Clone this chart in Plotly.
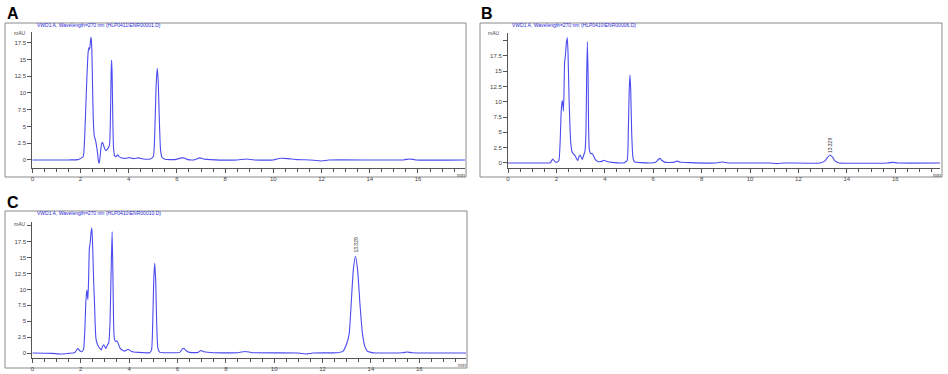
import plotly.graph_objects as go

# ---------------- data ----------------
a_time = [0, 1.5, 1.9, 2.05, 2.12, 2.18, 2.25, 2.32, 2.36, 2.38, 2.42, 2.44, 2.47, 2.5, 2.53, 2.57,
          2.63, 2.7, 2.75, 2.78, 2.82, 2.88, 2.92, 2.97, 3.05, 3.12, 3.2, 3.24, 3.27, 3.29, 3.31, 3.34,
          3.37, 3.42, 3.48, 3.54, 3.6, 3.7, 3.9, 4.0, 4.2, 4.4, 4.6, 4.9, 5.02, 5.08, 5.13, 5.18, 5.22,
          5.27, 5.32, 5.38, 5.5, 5.9, 6.2, 6.3, 6.45, 6.7, 6.95, 7.1, 7.4, 8.5, 8.9, 9.2, 10.0, 10.3,
          10.6, 11.0, 11.5, 12.0, 12.3, 15.4, 15.65, 15.9, 17.95]
a_mau = [0, 0, 0.05, 0.3, 0.6, 4, 11, 16.2, 16.8, 16.5, 18.0, 18.3, 16.5, 11, 6, 3.6,
         2.8, 1.2, -0.3, -0.5, 0.8, 2.5, 2.6, 2.0, 1.4, 1.6, 2.2, 6, 13, 14.9, 13, 6,
         1.8, 0.6, 0.5, 0.75, 0.5, 0.3, 0.25, 0.35, 0.2, 0.3, 0.15, 0.15, 0.5, 4, 10.5, 13.7, 12,
         6, 1.5, 0.4, 0.1, 0.05, 0.3, 0.3, 0.05, 0.0, 0.3, 0.15, 0.05, 0.0, 0.15, 0.0, 0.0, 0.25,
         0.2, 0.05, 0.0, -0.15, 0.0, 0.0, 0.15, 0.0, 0.0]

b_time = [0, 1.5, 1.75, 1.85, 1.92, 2.0, 2.1, 2.15, 2.2, 2.24, 2.27, 2.29, 2.31, 2.34, 2.37, 2.41,
          2.45, 2.48, 2.52, 2.56, 2.6, 2.65, 2.72, 2.77, 2.83, 2.88, 2.93, 2.98, 3.03, 3.07, 3.13,
          3.18, 3.22, 3.25, 3.28, 3.31, 3.33, 3.36, 3.42, 3.47, 3.53, 3.6, 3.75, 3.9, 3.98, 4.08, 4.3,
          4.8, 4.92, 4.97, 5.01, 5.04, 5.07, 5.11, 5.16, 5.22, 5.5, 6.1, 6.22, 6.28, 6.36, 6.5, 6.85,
          6.97, 7.1, 7.5, 8.6, 8.85, 9.1, 10.8, 11.1, 11.4, 12.9, 13.1, 13.2, 13.3, 13.4, 13.5, 13.65,
          15.7, 15.9, 16.1, 17.85]
b_mau = [0, 0, 0.05, 0.65, 0.3, 0.1, 0.4, 3, 8.5, 10.2, 9.5, 8.5, 11, 16.5, 17.5, 19.5,
         20.5, 18, 11, 6, 3, 1.8, 1.4, 1.25, 0.7, 0.4, 1.0, 1.3, 0.9, 0.6, 1.3,
         1.9, 5, 14, 19.8, 14, 6, 2.2, 1.5, 1.6, 1.2, 0.6, 0.2, 0.3, 0.45, 0.25, 0.1,
         0.05, 0.4, 5, 12, 14.4, 12, 5, 1, 0.2, 0.05, 0.1, 0.6, 0.75, 0.4, 0.1, 0.1,
         0.3, 0.15, 0.05, 0.0, 0.15, 0.0, 0.0, -0.1, 0.0, 0.0, 0.35, 0.9, 1.3, 1.0, 0.4, 0.05,
         0.0, 0.1, 0.0, 0.0]

c_time = [0, 0.8, 1.2, 1.5, 1.75, 1.88, 1.95, 2.05, 2.12, 2.17, 2.22, 2.26, 2.28, 2.3, 2.33, 2.36,
          2.39, 2.43, 2.46, 2.49, 2.53, 2.57, 2.6, 2.63, 2.68, 2.74, 2.8, 2.85, 2.9, 2.95, 3.0, 3.04,
          3.1, 3.16, 3.21, 3.26, 3.3, 3.33, 3.36, 3.39, 3.45, 3.5, 3.56, 3.64, 3.8, 3.92, 3.98, 4.1,
          4.4, 4.85, 4.93, 4.98, 5.02, 5.06, 5.1, 5.14, 5.19, 5.26, 5.6, 6.1, 6.2, 6.27, 6.35, 6.5,
          6.85, 6.97, 7.1, 7.5, 8.5, 8.8, 9.1, 11.0, 11.3, 11.6, 12.6, 12.85, 13.0, 13.1, 13.18, 13.27,
          13.36, 13.45, 13.55, 13.65, 13.75, 13.85, 14.0, 14.2, 15.3, 15.5, 15.7, 17.93]
c_mau = [0, -0.05, -0.15, -0.05, 0.05, 0.7, 0.4, 0.2, 0.6, 3.5, 8.5, 9.9, 9.0, 8.4, 12, 16.5,
         17.2, 19.0, 19.7, 17.5, 12, 8.0, 4.5, 2.3, 1.5, 1.0, 0.7, 0.5, 1.0, 1.3, 1.0, 0.7,
         1.2, 1.6, 4.5, 13, 19.1, 13, 5, 2.3, 1.8, 1.9, 1.4, 0.7, 0.3, 0.5, 0.55, 0.25,
         0.1, 0.05, 0.5, 5, 11.5, 14.1, 11.5, 5, 0.8, 0.15, 0.05, 0.1, 0.6, 0.75, 0.4, 0.1,
         0.1, 0.4, 0.2, 0.05, 0.05, 0.25, 0.05, 0.0, -0.15, 0.0, 0.05, 0.3, 1.5, 3, 7.5, 13,
         15.2, 13, 7.5, 3, 1.0, 0.3, 0.1, 0.0, 0.05, 0.15, 0.05, 0.0]

x_ticks = [0, 2, 4, 6, 8, 10, 12, 14, 16]
y_ticks = [0, 2.5, 5, 7.5, 10, 12.5, 15, 17.5, 20]
y_ticktext = ["0", "2.5", "5", "7.5", "10", "12.5", "15", "17.5", ""]

titles = ["VWD1 A, Wavelength=270 nm (HLP0411\\ENR00001.D)",
          "VWD1 A, Wavelength=270 nm (HLP0410\\ENR00006.D)",
          "VWD1 A, Wavelength=270 nm (HLP0410\\ENR00010.D)"]
panel_letters = ["A", "B", "C"]
peak_label = "13.329"
b_peak = (13.3, 2.9)
c_peak = (13.37, 17.0)

# ---------------- figure ----------------
W, H = 948, 374
def px(x):
    return x / W
def py(y):
    return 1 - y / H

LINE = "rgb(75,75,240)"
FONT = "Liberation Sans, Arial, sans-serif"

fig = go.Figure()
fig.add_trace(go.Scatter(x=a_time, y=a_mau, mode="lines", xaxis="x", yaxis="y",
                         line=dict(color=LINE, width=1.1, shape="spline", smoothing=0.5)))
fig.add_trace(go.Scatter(x=b_time, y=b_mau, mode="lines", xaxis="x2", yaxis="y2",
                         line=dict(color=LINE, width=1.1, shape="spline", smoothing=0.5)))
fig.add_trace(go.Scatter(x=c_time, y=c_mau, mode="lines", xaxis="x3", yaxis="y3",
                         line=dict(color=LINE, width=1.1, shape="spline", smoothing=0.5)))

def xax(domain, rng, anchor):
    return dict(domain=domain, range=rng, anchor=anchor, showgrid=False, zeroline=False,
                showline=True, linecolor="#555", linewidth=1,
                tickmode="array", tickvals=x_ticks, ticks="outside", ticklen=4,
                tickcolor="#555", tickfont=dict(size=6, color="#444", family=FONT),
                minor=dict(dtick=0.5, ticks="outside", ticklen=2.5, tickcolor="#555"),
                automargin=False, fixedrange=True)

def yax(domain, rng, anchor):
    return dict(domain=domain, range=rng, anchor=anchor, showgrid=False, zeroline=False,
                showline=True, linecolor="#555", linewidth=1,
                tickmode="array", tickvals=y_ticks, ticktext=y_ticktext, ticks="outside",
                ticklen=4, tickcolor="#555", tickfont=dict(size=6, color="#444", family=FONT),
                automargin=False, fixedrange=True)

layout = dict(
    width=W, height=H, margin=dict(l=0, r=0, t=0, b=0, pad=0),
    paper_bgcolor="white", plot_bgcolor="white", showlegend=False,
    xaxis=xax([px(32.3), px(465)], [0, 17.95], "y"),
    yaxis=yax([py(168.3), py(31.7)], [-1.25, 19.15], "x"),
    xaxis2=xax([px(508), px(940)], [0, 17.85], "y2"),
    yaxis2=yax([py(168.3), py(32.7)], [-0.87, 21.29], "x2"),
    xaxis3=xax([px(32.3), px(466)], [0, 17.93], "y3"),
    yaxis3=yax([py(358.3), py(222.3)], [-0.83, 20.55], "x3"),
)
fig.update_layout(**layout)

frames = [(5, 23, 466, 177), (480, 23, 942, 177), (5, 211, 467, 368)]
for (x0, y0, x1, y1) in frames:
    fig.add_shape(type="rect", xref="paper", yref="paper",
                  x0=px(x0), x1=px(x1), y0=py(y1), y1=py(y0),
                  line=dict(color="#8a8a8a", width=1), layer="below")

ann = []
letter_pos = [(13, 13), (487, 13), (12.5, 203)]
for t, (x, y) in zip(panel_letters, letter_pos):
    ann.append(dict(text="<b>%s</b>" % t, x=px(x), y=py(y), xref="paper", yref="paper",
                    showarrow=False, xanchor="center", yanchor="middle",
                    font=dict(size=16, color="black", family=FONT)))
title_pos = [(35, 25.5), (510, 25.5), (35, 213.5)]
for t, (x, y) in zip(titles, title_pos):
    ann.append(dict(text=t, x=px(x), y=py(y), xref="paper", yref="paper",
                    showarrow=False, xanchor="left", yanchor="middle",
                    font=dict(size=5, color="#2a2ad8", family=FONT)))
mau_pos = [(19.5, 33), (494, 33), (19.5, 224)]
for (x, y) in mau_pos:
    ann.append(dict(text="mAU", x=px(x), y=py(y), xref="paper", yref="paper",
                    showarrow=False, xanchor="center", yanchor="middle",
                    font=dict(size=5, color="#444", family=FONT)))
min_pos = [(461, 174.5), (937, 174.5), (462, 365)]
for (x, y) in min_pos:
    ann.append(dict(text="min", x=px(x), y=py(y), xref="paper", yref="paper",
                    showarrow=False, xanchor="center", yanchor="middle",
                    font=dict(size=5, color="#444", family=FONT)))
ann.append(dict(text=peak_label, x=b_peak[0], y=b_peak[1], xref="x2", yref="y2",
                showarrow=False, textangle=-90, xanchor="center", yanchor="middle",
                font=dict(size=5, color="#333", family=FONT)))
ann.append(dict(text=peak_label, x=c_peak[0], y=c_peak[1], xref="x3", yref="y3",
                showarrow=False, textangle=-90, xanchor="center", yanchor="middle",
                font=dict(size=5, color="#333", family=FONT)))
fig.update_layout(annotations=ann)

fig.write_html("out.html", config={"displayModeBar": False, "staticPlot": True})

# remove the default page margin so the figure sits at the window's top-left corner
with open("out.html", "r", encoding="utf-8") as f:
    html = f.read()
html = html.replace("<head>", "<head><style>html,body{margin:0;padding:0;overflow:hidden;}</style>", 1)
with open("out.html", "w", encoding="utf-8") as f:
    f.write(html)
